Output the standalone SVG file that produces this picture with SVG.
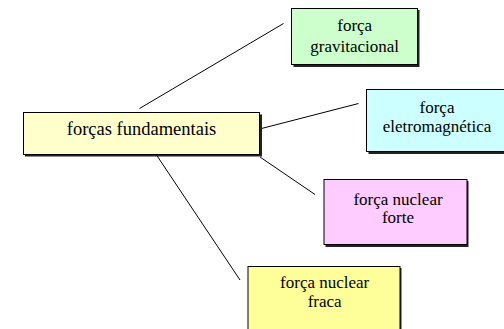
<svg xmlns="http://www.w3.org/2000/svg" width="504" height="329" viewBox="0 0 504 329">
<rect width="504" height="329" fill="#fff"/>
<g id="connectors" stroke="#000" stroke-width="1" fill="none">
<line x1="139.5" y1="108.5" x2="283.5" y2="23.5"/>
<line x1="261.5" y1="128.5" x2="358.5" y2="103.5"/>
<line x1="260" y1="157" x2="315" y2="194.5"/>
<line x1="156.5" y1="155" x2="240" y2="280"/>
</g>
<g id="n-fundamentais">
<rect x="25" y="114.5" width="237" height="42" fill="#222"/>
<rect x="23.5" y="112.5" width="236" height="42" fill="#FFFFCC" stroke="#000"/>
<text x="141.5" y="134.5" style="font-family:'Liberation Serif','Times New Roman',serif;font-size:18.5px" text-anchor="middle">forças fundamentais</text>
</g>
<g id="n-gravitacional">
<rect x="293.5" y="10" width="126" height="57" fill="#222"/>
<rect x="291.5" y="8.5" width="126" height="56" fill="#CCFFCC" stroke="#000"/>
<text x="354.7" y="31" style="font-family:'Liberation Serif','Times New Roman',serif;font-size:17px" text-anchor="middle">força</text>
<text x="354.7" y="51.7" style="font-family:'Liberation Serif','Times New Roman',serif;font-size:17px" text-anchor="middle">gravitacional</text>
</g>
<g id="n-eletromagnetica">
<rect x="368.5" y="91" width="140" height="63" fill="#222"/>
<rect x="366.5" y="89.5" width="140" height="62" fill="#CCFFFF" stroke="#000"/>
<text x="437" y="113.3" style="font-family:'Liberation Serif','Times New Roman',serif;font-size:17px" text-anchor="middle">força</text>
<text x="437" y="131.7" style="font-family:'Liberation Serif','Times New Roman',serif;font-size:17px" text-anchor="middle">eletromagnética</text>
</g>
<g id="n-forte">
<rect x="325.5" y="181" width="143" height="66" fill="#222"/>
<rect x="324" y="179.5" width="143" height="65" fill="#FFCCFF" stroke="#000"/>
<text x="398" y="205" style="font-family:'Liberation Serif','Times New Roman',serif;font-size:17px" text-anchor="middle">força nuclear</text>
<text x="398" y="223.3" style="font-family:'Liberation Serif','Times New Roman',serif;font-size:17px" text-anchor="middle">forte</text>
</g>
<g id="n-fraca">
<rect x="249.5" y="268" width="152" height="70" fill="#222"/>
<rect x="248" y="266.5" width="152" height="70" fill="#FFFF99" stroke="#000"/>
<text x="324.7" y="288.3" style="font-family:'Liberation Serif','Times New Roman',serif;font-size:17px" text-anchor="middle">força nuclear</text>
<text x="324.7" y="307.3" style="font-family:'Liberation Serif','Times New Roman',serif;font-size:17px" text-anchor="middle">fraca</text>
</g>
</svg>
